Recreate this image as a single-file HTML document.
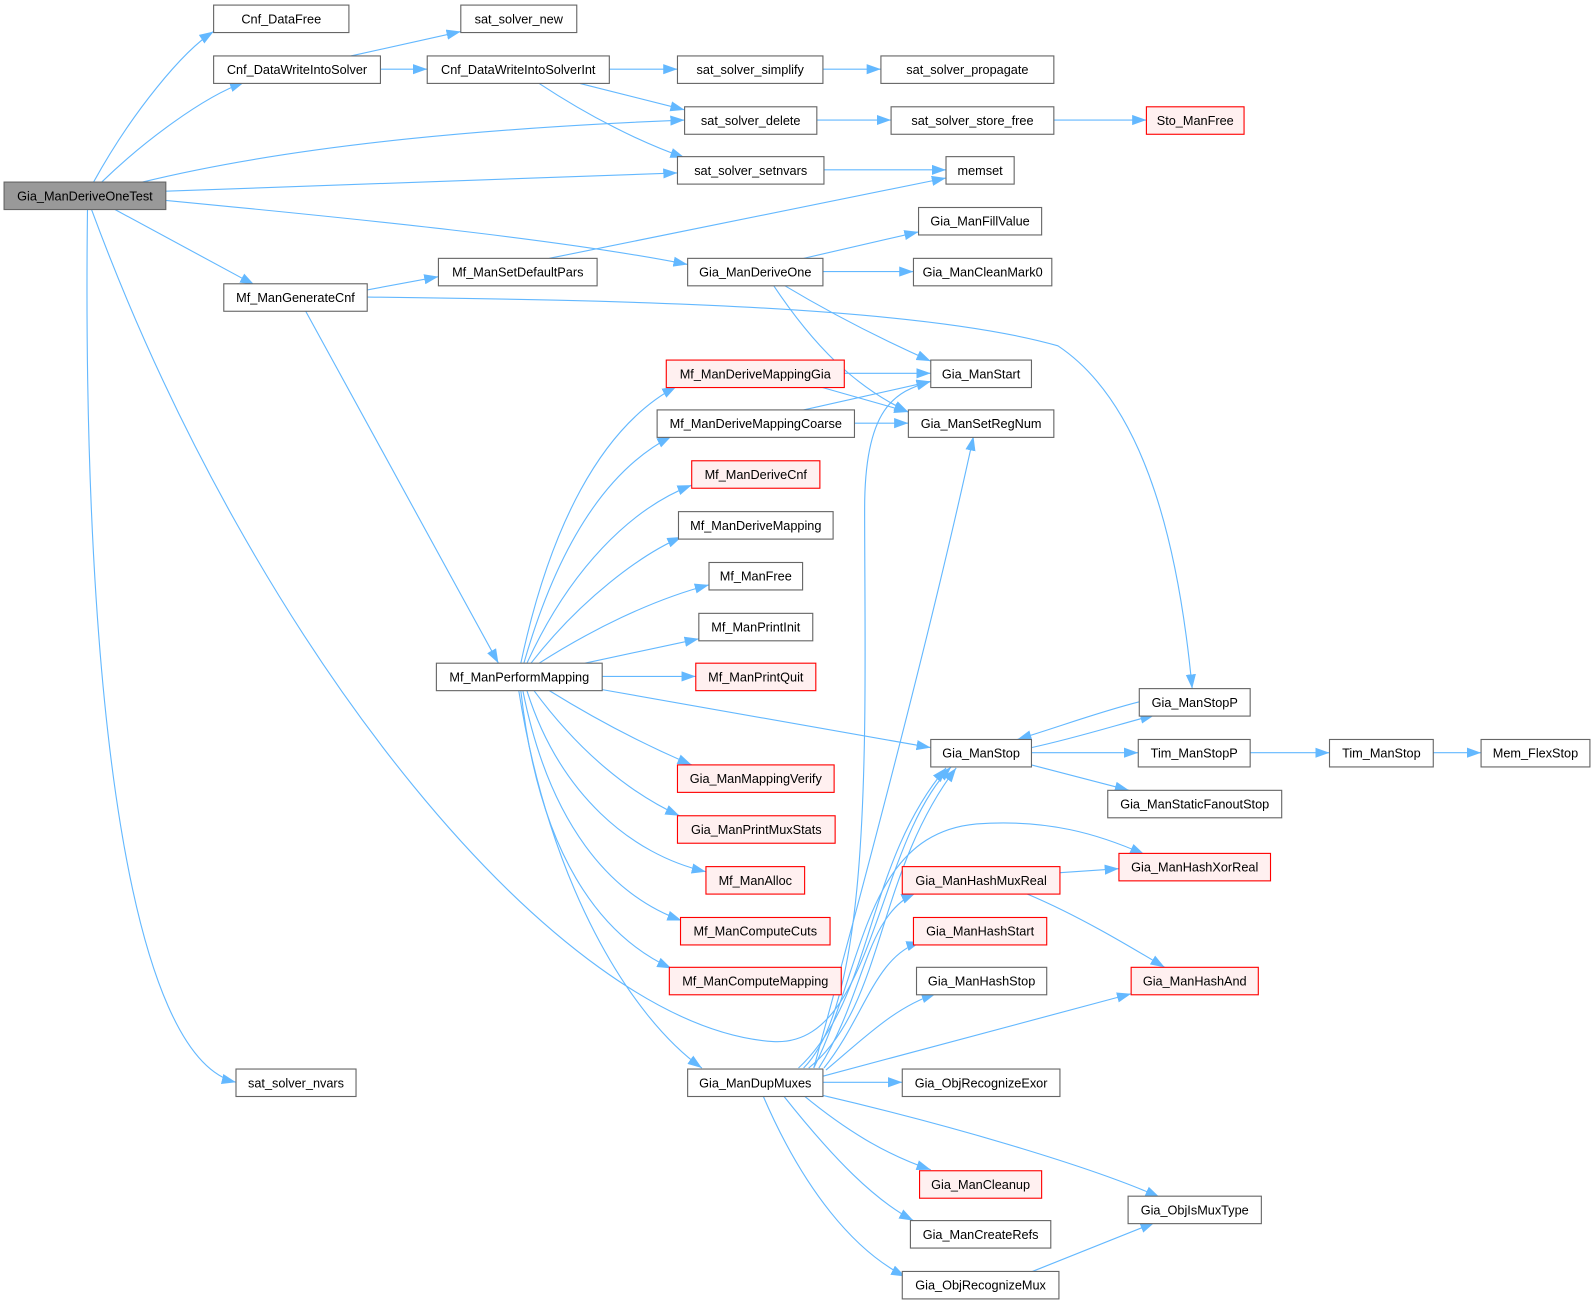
<!DOCTYPE html>
<html><head><meta charset="utf-8"><style>
html,body{margin:0;padding:0;background:#fff;}
svg{display:block;}
text{font-family:"Liberation Sans",Arial,sans-serif;font-size:12.5px;fill:#000;text-anchor:middle;dominant-baseline:central;}
.e{fill:none;stroke:#63b8ff;stroke-width:1.1;marker-end:url(#a);}
.n{fill:#fff;stroke:#666;stroke-width:1.1;}
.r{fill:#fff0f0;stroke:#f00;stroke-width:1.1;}
.g{fill:#999;stroke:#666;stroke-width:1.1;}
</style></head><body>
<svg width="1595" height="1304" viewBox="0 0 1568 1282" preserveAspectRatio="none" xmlns="http://www.w3.org/2000/svg">
<defs><marker id="a" markerUnits="userSpaceOnUse" markerWidth="15" markerHeight="11" refX="14" refY="5" orient="auto"><path d="M0,0 L14,5 L0,10 z" fill="#63b8ff"/></marker></defs>
<g>
<path class="e" d="M92,179 C130,110 180,50 210,31"/>
<path class="e" d="M100,179 C140,140 200,95 240,81"/>
<path class="e" d="M140,179 C300,140 500,125 673,118"/>
<path class="e" d="M163,188 L666,170"/>
<path class="e" d="M163,197 C350,215 550,235 676,260"/>
<path class="e" d="M113,206 L250,280"/>
<path class="e" d="M90,206 C250,640 550,1010 760,1024 C860,1030 860,830 935,754"/>
<path class="e" d="M86,206 C80,700 130,1040 232,1064"/>
<path class="e" d="M345,55 L453,31"/>
<path class="e" d="M374,68 L420,68"/>
<path class="e" d="M599,68 L666,68"/>
<path class="e" d="M570,82 L673,108"/>
<path class="e" d="M530,82 C580,115 630,140 673,155"/>
<path class="e" d="M809,68 L866,68"/>
<path class="e" d="M803,118 L876,118"/>
<path class="e" d="M1036,118 L1127,118"/>
<path class="e" d="M810,167 L930,167"/>
<path class="e" d="M540,254 L930,175"/>
<path class="e" d="M790,254 L903,228"/>
<path class="e" d="M809,267 L898,267"/>
<path class="e" d="M770,280 C820,310 870,335 915,355"/>
<path class="e" d="M760,280 C800,340 840,380 893,405"/>
<path class="e" d="M361,285 L431,272"/>
<path class="e" d="M361,292 C600,295 900,300 1040,340 C1130,400 1160,550 1172,677"/>
<path class="e" d="M300,305 L490,652"/>
<path class="e" d="M512,652 C540,520 590,420 665,380"/>
<path class="e" d="M515,652 C550,530 600,460 660,429"/>
<path class="e" d="M518,652 C560,560 620,500 680,477"/>
<path class="e" d="M522,652 C570,590 630,545 670,528"/>
<path class="e" d="M530,652 C580,620 640,590 697,575"/>
<path class="e" d="M575,652 L687,628"/>
<path class="e" d="M592,665 L684,665"/>
<path class="e" d="M592,678 L915,735"/>
<path class="e" d="M540,679 C590,710 640,735 680,752"/>
<path class="e" d="M525,679 C570,740 620,780 668,802"/>
<path class="e" d="M518,679 C550,780 620,840 694,857"/>
<path class="e" d="M514,679 C540,810 600,880 670,905"/>
<path class="e" d="M512,679 C530,840 590,920 660,952"/>
<path class="e" d="M510,679 C540,870 620,1000 690,1050"/>
<path class="e" d="M830,367 L915,367"/>
<path class="e" d="M805,380 L893,405"/>
<path class="e" d="M790,403 L915,375"/>
<path class="e" d="M840,416 L893,416"/>
<path class="e" d="M1120,690 C1080,700 1040,715 1000,727"/>
<path class="e" d="M1014,735 C1060,725 1100,712 1135,703"/>
<path class="e" d="M1014,740 L1119,740"/>
<path class="e" d="M1229,740 L1307,740"/>
<path class="e" d="M1409,740 L1456,740"/>
<path class="e" d="M1014,752 L1110,777"/>
<path class="e" d="M1042,858 L1100,854"/>
<path class="e" d="M1010,879 C1060,900 1110,930 1145,951"/>
<path class="e" d="M800,1050 C860,830 920,600 957,429"/>
<path class="e" d="M790,1050 C860,980 850,700 850,500 C850,400 880,385 915,375"/>
<path class="e" d="M785,1050 C860,980 850,850 930,755"/>
<path class="e" d="M795,1050 C870,990 860,860 940,755"/>
<path class="e" d="M800,1050 C850,950 850,820 960,810 C1030,805 1080,820 1125,840"/>
<path class="e" d="M805,1050 C850,980 850,900 900,878"/>
<path class="e" d="M810,1050 C850,1000 860,940 905,926"/>
<path class="e" d="M812,1052 C850,1020 880,990 920,977"/>
<path class="e" d="M809,1058 L1112,977"/>
<path class="e" d="M809,1064 L887,1064"/>
<path class="e" d="M809,1077 C950,1110 1080,1150 1140,1177"/>
<path class="e" d="M790,1077 C830,1110 870,1135 915,1150"/>
<path class="e" d="M770,1077 C820,1140 860,1180 898,1200"/>
<path class="e" d="M750,1077 C790,1170 840,1230 890,1255"/>
<path class="e" d="M1015,1250 L1135,1202"/>
</g>
<g>
<rect class="g" x="4" y="179" width="159" height="27"/><text x="83.5" y="192.5">Gia_ManDeriveOneTest</text>
<rect class="n" x="210" y="5" width="133" height="27"/><text x="276.5" y="18.5">Cnf_DataFree</text>
<rect class="n" x="453" y="5" width="114" height="27"/><text x="510" y="18.5">sat_solver_new</text>
<rect class="n" x="210" y="55" width="164" height="27"/><text x="292" y="68.5">Cnf_DataWriteIntoSolver</text>
<rect class="n" x="420" y="55" width="179" height="27"/><text x="509.5" y="68.5">Cnf_DataWriteIntoSolverInt</text>
<rect class="n" x="666" y="55" width="143" height="27"/><text x="737.5" y="68.5">sat_solver_simplify</text>
<rect class="n" x="866" y="55" width="170" height="27"/><text x="951" y="68.5">sat_solver_propagate</text>
<rect class="n" x="673" y="105" width="130" height="27"/><text x="738" y="118.5">sat_solver_delete</text>
<rect class="n" x="876" y="105" width="160" height="27"/><text x="956" y="118.5">sat_solver_store_free</text>
<rect class="r" x="1127" y="105" width="96" height="27"/><text x="1175" y="118.5">Sto_ManFree</text>
<rect class="n" x="666" y="154" width="144" height="27"/><text x="738" y="167.5">sat_solver_setnvars</text>
<rect class="n" x="930" y="154" width="67" height="27"/><text x="963.5" y="167.5">memset</text>
<rect class="n" x="903" y="204" width="121" height="27"/><text x="963.5" y="217.5">Gia_ManFillValue</text>
<rect class="n" x="220" y="279" width="141" height="27"/><text x="290.5" y="292.5">Mf_ManGenerateCnf</text>
<rect class="n" x="431" y="254" width="156" height="27"/><text x="509" y="267.5">Mf_ManSetDefaultPars</text>
<rect class="n" x="676" y="254" width="133" height="27"/><text x="742.5" y="267.5">Gia_ManDeriveOne</text>
<rect class="n" x="898" y="254" width="136" height="27"/><text x="966" y="267.5">Gia_ManCleanMark0</text>
<rect class="r" x="655" y="354" width="175" height="27"/><text x="742.5" y="367.5">Mf_ManDeriveMappingGia</text>
<rect class="n" x="915" y="354" width="99" height="27"/><text x="964.5" y="367.5">Gia_ManStart</text>
<rect class="n" x="646" y="403" width="194" height="27"/><text x="743" y="416.5">Mf_ManDeriveMappingCoarse</text>
<rect class="n" x="893" y="403" width="143" height="27"/><text x="964.5" y="416.5">Gia_ManSetRegNum</text>
<rect class="r" x="680" y="453" width="126" height="27"/><text x="743" y="466.5">Mf_ManDeriveCnf</text>
<rect class="n" x="667" y="503" width="152" height="27"/><text x="743" y="516.5">Mf_ManDeriveMapping</text>
<rect class="n" x="697" y="553" width="92" height="27"/><text x="743" y="566.5">Mf_ManFree</text>
<rect class="n" x="687" y="603" width="112" height="27"/><text x="743" y="616.5">Mf_ManPrintInit</text>
<rect class="r" x="684" y="652" width="118" height="27"/><text x="743" y="665.5">Mf_ManPrintQuit</text>
<rect class="n" x="429" y="652" width="163" height="27"/><text x="510.5" y="665.5">Mf_ManPerformMapping</text>
<rect class="n" x="1120" y="677" width="109" height="27"/><text x="1174.5" y="690.5">Gia_ManStopP</text>
<rect class="n" x="915" y="727" width="99" height="27"/><text x="964.5" y="740.5">Gia_ManStop</text>
<rect class="n" x="1119" y="727" width="110" height="27"/><text x="1174" y="740.5">Tim_ManStopP</text>
<rect class="n" x="1307" y="727" width="102" height="27"/><text x="1358" y="740.5">Tim_ManStop</text>
<rect class="n" x="1456" y="727" width="107" height="27"/><text x="1509.5" y="740.5">Mem_FlexStop</text>
<rect class="n" x="1089" y="777" width="171" height="27"/><text x="1174.5" y="790.5">Gia_ManStaticFanoutStop</text>
<rect class="r" x="666" y="752" width="154" height="27"/><text x="743" y="765.5">Gia_ManMappingVerify</text>
<rect class="r" x="666" y="802" width="155" height="27"/><text x="743.5" y="815.5">Gia_ManPrintMuxStats</text>
<rect class="r" x="694" y="852" width="97" height="27"/><text x="742.5" y="865.5">Mf_ManAlloc</text>
<rect class="r" x="887" y="852" width="155" height="27"/><text x="964.5" y="865.5">Gia_ManHashMuxReal</text>
<rect class="r" x="1100" y="839" width="149" height="27"/><text x="1174.5" y="852.5">Gia_ManHashXorReal</text>
<rect class="r" x="669" y="902" width="147" height="27"/><text x="742.5" y="915.5">Mf_ManComputeCuts</text>
<rect class="r" x="898" y="902" width="131" height="27"/><text x="963.5" y="915.5">Gia_ManHashStart</text>
<rect class="r" x="658" y="951" width="169" height="27"/><text x="742.5" y="964.5">Mf_ManComputeMapping</text>
<rect class="n" x="901" y="951" width="128" height="27"/><text x="965" y="964.5">Gia_ManHashStop</text>
<rect class="r" x="1112" y="951" width="125" height="27"/><text x="1174.5" y="964.5">Gia_ManHashAnd</text>
<rect class="n" x="232" y="1051" width="118" height="27"/><text x="291" y="1064.5">sat_solver_nvars</text>
<rect class="n" x="676" y="1051" width="133" height="27"/><text x="742.5" y="1064.5">Gia_ManDupMuxes</text>
<rect class="n" x="887" y="1051" width="155" height="27"/><text x="964.5" y="1064.5">Gia_ObjRecognizeExor</text>
<rect class="r" x="904" y="1151" width="120" height="27"/><text x="964" y="1164.5">Gia_ManCleanup</text>
<rect class="n" x="1109" y="1176" width="131" height="27"/><text x="1174.5" y="1189.5">Gia_ObjIsMuxType</text>
<rect class="n" x="895" y="1200" width="138" height="27"/><text x="964" y="1213.5">Gia_ManCreateRefs</text>
<rect class="n" x="887" y="1250" width="154" height="27"/><text x="964" y="1263.5">Gia_ObjRecognizeMux</text>
</g>
</svg>
</body></html>
